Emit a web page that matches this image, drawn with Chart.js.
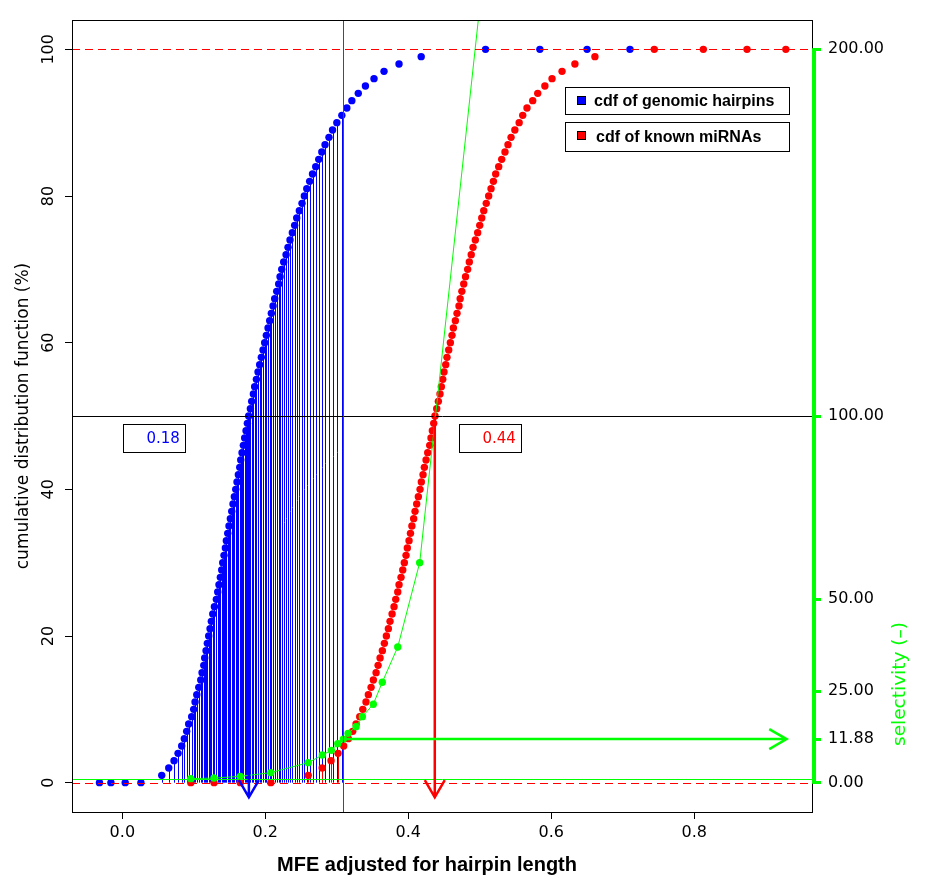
<!DOCTYPE html>
<html>
<head>
<meta charset="utf-8">
<title>cdf of genomic hairpins and known miRNAs</title>
<script src="https://cdn.jsdelivr.net/npm/chart.js@4.4.1/dist/chart.umd.min.js"></script>
<style>
  html, body { margin: 0; padding: 0; background: #fff; }
  #wrap { width: 936px; height: 884px; }
</style>
</head>
<body>
<div id="wrap"><canvas id="cdfChart" width="936" height="884"></canvas></div>
<script>
// cdf level (%) of every plotted point, same for both curves
const cdfLevels = [0, 0, 0, 0,
  1, 2, 3, 4, 5, 6, 7, 8, 9, 10, 11, 12, 13, 14, 15, 16, 17, 18, 19, 20,
  21, 22, 23, 24, 25, 26, 27, 28, 29, 30, 31, 32, 33, 34, 35, 36, 37, 38, 39, 40,
  41, 42, 43, 44, 45, 46, 47, 48, 49, 50, 51, 52, 53, 54, 55, 56, 57, 58, 59, 60,
  61, 62, 63, 64, 65, 66, 67, 68, 69, 70, 71, 72, 73, 74, 75, 76, 77, 78, 79, 80,
  81, 82, 83, 84, 85, 86, 87, 88, 89, 90, 91, 92, 93, 94, 95, 96, 97, 98, 99,
  100, 100, 100, 100];

// MFE (adjusted for hairpin length) at each level
const genomicMfe = [-0.032, -0.016, 0.004, 0.026,
  0.0551, 0.0649, 0.0723, 0.0779, 0.0830, 0.0867, 0.0900, 0.0928, 0.0970, 0.0998,
  0.1017, 0.1041, 0.1069, 0.1097, 0.1115, 0.1139, 0.1152, 0.1171, 0.1189, 0.1208,
  0.1227, 0.1245, 0.1265, 0.1288,
  0.1315, 0.1334, 0.1352, 0.1371, 0.1390, 0.1404, 0.1422, 0.1441, 0.1455, 0.1474,
  0.1492, 0.1511, 0.1530, 0.1548, 0.1567, 0.1586, 0.1604, 0.1623, 0.1642, 0.1656,
  0.1674, 0.1693, 0.1711, 0.1730, 0.1749, 0.1767, 0.1791, 0.1809, 0.1833, 0.1851,
  0.1875, 0.1898, 0.1921, 0.1944, 0.1968, 0.1991, 0.2014, 0.2038, 0.2061, 0.2084,
  0.2108, 0.2131,
  0.2159, 0.2187, 0.2206, 0.2229, 0.2257, 0.2290, 0.2317, 0.2345, 0.2378, 0.2410,
  0.2439, 0.2476, 0.2513, 0.2546, 0.2580, 0.2620, 0.2660, 0.2705, 0.2747, 0.2790,
  0.2835, 0.2890, 0.2940, 0.3000, 0.3070, 0.3140, 0.3210, 0.3300, 0.3400, 0.3520,
  0.3660, 0.3870, 0.4180,
  0.508, 0.584, 0.650, 0.710];

const mirnaMfe = [0.0957, 0.1283, 0.1650, 0.2076,
  0.2600, 0.2795, 0.2919, 0.3017, 0.3096, 0.3161, 0.3222, 0.3269, 0.3320, 0.3363,
  0.3408, 0.3441, 0.3479, 0.3511, 0.3549, 0.3577, 0.3605, 0.3637, 0.3665, 0.3693,
  0.3721, 0.3744, 0.3773, 0.3800, 0.3824, 0.3852, 0.3870, 0.3898, 0.3922, 0.3944,
  0.3968, 0.3986, 0.4010, 0.4030, 0.4050,
  0.4075, 0.4094, 0.4117, 0.4140, 0.4164, 0.4182, 0.4206, 0.4224, 0.4248, 0.4271,
  0.4299, 0.4317, 0.4336, 0.4355, 0.4373, 0.4397, 0.4420, 0.4443, 0.4462, 0.4481,
  0.4499, 0.4523, 0.4541, 0.4565, 0.4588, 0.4611, 0.4630, 0.4658, 0.4681, 0.4709,
  0.4725, 0.4749,
  0.4775, 0.4800, 0.4830, 0.4853, 0.4880, 0.4905, 0.4937, 0.4970, 0.4999, 0.5027,
  0.5055, 0.5090, 0.5124, 0.5157, 0.5190, 0.5222, 0.5264, 0.5306, 0.5352, 0.5394,
  0.5437, 0.5490, 0.5550, 0.5600, 0.5660, 0.5740, 0.5810, 0.5910, 0.6010, 0.6150,
  0.6330, 0.6610,
  0.744, 0.8126, 0.8737, 0.928];

// selectivity curve (right axis)
const selectivityMfe = [0.0957, 0.1283, 0.1650, 0.2076, 0.2600, 0.2797, 0.2923, 0.3013,
  0.3091, 0.3157, 0.3269, 0.3357, 0.3510, 0.3636, 0.3852, 0.4159, 0.52];
const selectivityValues = [1.09, 1.26, 1.72, 2.73, 5.46, 7.53, 8.81, 10.64,
  11.88, 13.45, 15.28, 18.0, 21.4, 27.4, 37.0, 60.0, 248];

const xTicks = [0, 0.2, 0.4, 0.6, 0.8];
const cdfTicks = [0, 20, 40, 60, 80, 100];
const selectivityTicks = [0, 11.88, 25, 50, 100, 200];

const cutoff = 0.309;
const cutoffSelectivity = 11.88;
const genomicMedian = 0.177;
const mirnaMedian = 0.437;
const medianLabels = ['0.18', '0.44'];

const BLUE = '#0000ff', RED = '#ff0000', GREEN = '#00ff00';
const SANS = '"DejaVu Sans", sans-serif';
const BOLD = 'bold 16px "Liberation Sans", Arial, sans-serif';
const DOT = 3.7;

const toPoints = (xs, ys) => xs.map((v, i) => ({ x: v, y: ys[i] }));

function arrow(ctx, x0, y0, x1, y1, color, width) {
    const ang = Math.atan2(y1 - y0, x1 - x0);
    const len = 20, spread = Math.PI / 6;
    ctx.strokeStyle = color;
    ctx.lineWidth = width;
    ctx.beginPath();
    ctx.moveTo(x0, y0);
    ctx.lineTo(x1, y1);
    ctx.moveTo(x1 - len * Math.cos(ang - spread), y1 - len * Math.sin(ang - spread));
    ctx.lineTo(x1, y1);
    ctx.lineTo(x1 - len * Math.cos(ang + spread), y1 - len * Math.sin(ang + spread));
    ctx.stroke();
}

const annotate = {
    id: 'annotate',
    beforeDatasetsDraw(chart) {
        const { ctx, chartArea: a, scales: { x, y } } = chart;
        ctx.save();
        ctx.beginPath();
        ctx.rect(a.left, a.top, a.width, a.height);
        ctx.clip();
        ctx.lineWidth = 1;
        // vertical drops below the cutoff
        [[genomicMfe, BLUE], [mirnaMfe, RED]].forEach(([xs, col]) => {
            ctx.strokeStyle = col;
            ctx.beginPath();
            xs.forEach((v, i) => {
                if (v > cutoff || cdfLevels[i] === 0) return;
                const px = Math.round(x.getPixelForValue(v)) + 0.5;
                ctx.moveTo(px, y.getPixelForValue(0));
                ctx.lineTo(px, y.getPixelForValue(cdfLevels[i]));
            });
            ctx.stroke();
        });
        ctx.restore();
    },
    afterDatasetsDraw(chart) {
        const { ctx, chartArea: a, scales: { x, y, y2 } } = chart;
        const hline = (py, col, dash) => {
            ctx.strokeStyle = col;
            ctx.lineWidth = 1;
            ctx.setLineDash(dash || []);
            ctx.beginPath();
            ctx.moveTo(a.left, Math.round(py) + 0.5);
            ctx.lineTo(a.right, Math.round(py) + 0.5);
            ctx.stroke();
            ctx.setLineDash([]);
        };
        ctx.save();
        ctx.beginPath();
        ctx.rect(a.left, a.top, a.width, a.height);
        ctx.clip();

        hline(y.getPixelForValue(0), RED, [8, 5]);
        hline(y.getPixelForValue(100), RED, [8, 5]);
        hline(y.getPixelForValue(50), '#000');
        hline(y2.getPixelForValue(1), GREEN);

        // cutoff
        const cx = Math.round(x.getPixelForValue(cutoff)) + 0.5;
        ctx.strokeStyle = RED;
        ctx.lineWidth = 1;
        ctx.beginPath();
        ctx.moveTo(cx, a.top);
        ctx.lineTo(cx, a.bottom);
        ctx.stroke();

        // medians and selectivity at the cutoff
        arrow(ctx, x.getPixelForValue(genomicMedian), y.getPixelForValue(50),
            x.getPixelForValue(genomicMedian), y.getPixelForValue(-2), BLUE, 2.5);
        arrow(ctx, x.getPixelForValue(mirnaMedian), y.getPixelForValue(50),
            x.getPixelForValue(mirnaMedian), y.getPixelForValue(-2), RED, 2.5);
        arrow(ctx, cx, y2.getPixelForValue(cutoffSelectivity),
            x.getPixelForValue(0.929), y2.getPixelForValue(cutoffSelectivity), GREEN, 2.5);
        ctx.restore();

        // frame
        ctx.strokeStyle = '#000';
        ctx.lineWidth = 1;
        ctx.strokeRect(a.left + 0.5, a.top + 0.5, a.width - 1, a.height);

        // right axis line
        ctx.strokeStyle = GREEN;
        ctx.lineWidth = 4;
        ctx.beginPath();
        ctx.moveTo(a.right + 1, y2.getPixelForValue(0) + 1);
        ctx.lineTo(a.right + 1, y2.getPixelForValue(200) - 1);
        ctx.stroke();

        // median label boxes
        ctx.font = '15px ' + SANS;
        ctx.textAlign = 'center';
        ctx.textBaseline = 'middle';
        [[0.057, BLUE, medianLabels[0]], [0.527, RED, medianLabels[1]]].forEach(([v, col, txt]) => {
            const tx = x.getPixelForValue(v), ty = y.getPixelForValue(47);
            ctx.strokeStyle = '#000';
            ctx.lineWidth = 1;
            ctx.strokeRect(Math.round(tx - 40) + 0.5, Math.round(ty - 14) + 0.5, 62, 28);
            ctx.fillStyle = col;
            ctx.fillText(txt, tx, ty + 1);
        });

        // legend
        ctx.textAlign = 'left';
        ctx.textBaseline = 'alphabetic';
        ctx.font = BOLD;
        [[87, BLUE, 'cdf of genomic hairpins', 594], [122, RED, 'cdf of known miRNAs', 596]].forEach(([top, col, txt, tx]) => {
            const h = top === 87 ? 27 : 29;
            ctx.strokeStyle = '#000';
            ctx.lineWidth = 1;
            ctx.strokeRect(565.5, top + 0.5, 224, h);
            ctx.fillStyle = col;
            ctx.fillRect(577, top + 9.5, 9, 8);
            ctx.strokeRect(577.5, top + 9.5, 8, 8);
            ctx.fillStyle = '#000';
            ctx.fillText(txt, tx, top + 19 + (h - 27) / 2);
        });

        // left tick labels, rotated like the original
        ctx.fillStyle = '#000';
        ctx.font = '16px ' + SANS;
        ctx.textAlign = 'center';
        cdfTicks.forEach(v => {
            ctx.save();
            ctx.translate(53, y.getPixelForValue(v));
            ctx.rotate(-Math.PI / 2);
            ctx.fillText(String(v), 0, 0);
            ctx.restore();
        });

        // axis titles
        ctx.save();
        ctx.font = '17px ' + SANS;
        ctx.translate(28, (a.top + a.bottom) / 2);
        ctx.rotate(-Math.PI / 2);
        ctx.fillText('cumulative distribution function (%)', 0, 0);
        ctx.restore();

        ctx.save();
        ctx.fillStyle = GREEN;
        ctx.font = '18.5px ' + SANS;
        ctx.translate(905, 684);
        ctx.rotate(-Math.PI / 2);
        ctx.fillText('selectivity (\u2013)', 0, 0);
        ctx.restore();

        ctx.font = 'bold 20px "Liberation Sans", Arial, sans-serif';
        ctx.fillText('MFE adjusted for hairpin length', 427, 871);
    }
};

new Chart(document.getElementById('cdfChart'), {
    type: 'scatter',
    data: {
        datasets: [
            {
                label: 'selectivity',
                data: toPoints(selectivityMfe, selectivityValues),
                yAxisID: 'y2',
                showLine: true,
                borderColor: GREEN,
                borderWidth: 1,
                backgroundColor: GREEN,
                pointRadius: DOT,
                pointBorderWidth: 0,
                order: 0
            },
            {
                label: 'cdf of known miRNAs',
                data: toPoints(mirnaMfe, cdfLevels),
                backgroundColor: RED,
                pointRadius: DOT,
                pointBorderWidth: 0,
                order: 1
            },
            {
                label: 'cdf of genomic hairpins',
                data: toPoints(genomicMfe, cdfLevels),
                backgroundColor: BLUE,
                pointRadius: DOT,
                pointBorderWidth: 0,
                order: 2
            }
        ]
    },
    options: {
        responsive: false,
        animation: false,
        devicePixelRatio: 1,
        events: [],
        layout: { padding: { top: 20, left: 0, right: 0, bottom: 0 } },
        plugins: { legend: { display: false }, tooltip: { enabled: false } },
        scales: {
            x: {
                type: 'linear',
                min: -0.0704,
                max: 0.966,
                afterBuildTicks: s => { s.ticks = xTicks.map(v => ({ value: v })); },
                afterFit: s => { s.height = 72; },
                grid: { drawOnChartArea: false, tickLength: 7, color: '#000', lineWidth: 1 },
                border: { display: false },
                ticks: {
                    color: '#000', font: { family: SANS, size: 16 }, padding: 4,
                    maxRotation: 0, autoSkip: false, callback: v => v.toFixed(1)
                }
            },
            y: {
                type: 'linear',
                position: 'left',
                min: -4,
                max: 104,
                afterBuildTicks: s => { s.ticks = cdfTicks.map(v => ({ value: v })); },
                afterFit: s => { s.width = 72; },
                grid: { drawOnChartArea: false, tickLength: 7, color: '#000', lineWidth: 1 },
                border: { display: false },
                ticks: { display: false }
            },
            y2: {
                type: 'linear',
                position: 'right',
                min: -8,
                max: 208,
                afterBuildTicks: s => { s.ticks = selectivityTicks.map(v => ({ value: v })); },
                afterFit: s => { s.width = 123; },
                grid: { drawOnChartArea: false, tickLength: 8, color: GREEN, lineWidth: 3 },
                border: { display: false },
                ticks: {
                    color: '#000', font: { family: SANS, size: 16 }, padding: 7,
                    autoSkip: false, callback: v => v.toFixed(2)
                }
            }
        }
    },
    plugins: [annotate]
});
</script>
</body>
</html>
